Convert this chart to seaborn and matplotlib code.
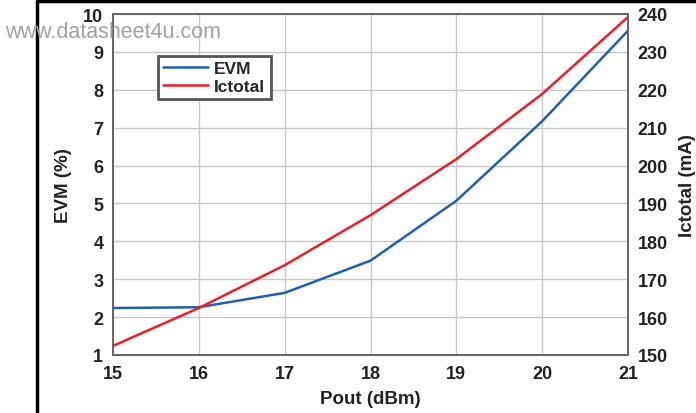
import matplotlib
matplotlib.use("Agg")
import matplotlib.pyplot as plt
import seaborn as sns
import pandas as pd
from matplotlib.lines import Line2D

# values
pout = [15, 16, 17, 18, 19, 20, 21]
evm = [2.24, 2.26, 2.64, 3.49, 5.07, 7.17, 9.56]
ictotal = [152.4, 162.4, 173.7, 186.9, 201.7, 218.9, 239.2]

df = pd.DataFrame({"Pout": pout, "EVM": evm, "Ictotal": ictotal})

sns.set_style("white")
plt.rcParams["font.family"] = ["Liberation Sans", "DejaVu Sans"]
plt.rcParams["font.weight"] = "bold"

fig = plt.figure(figsize=(6.96, 4.14), dpi=100)
ax = fig.add_axes([113 / 696, 1 - 356 / 414, 515 / 696, 341 / 414])
ax2 = ax.twinx()

sns.lineplot(data=df, x="Pout", y="EVM", ax=ax, color="#1f5fb0", lw=1.8, label="EVM", legend=False)
sns.lineplot(data=df, x="Pout", y="Ictotal", ax=ax2, color="#ee1c25", lw=1.8, label="Ictotal", legend=False)

ax.set_xlim(15, 21)
ax.set_ylim(1, 10)
ax2.set_ylim(150, 240)
ax.set_xticks(range(15, 22))
ax.set_yticks(range(1, 11))
ax2.set_yticks(range(150, 241, 10))

ax.grid(True, color="#c8c8c8", lw=1)
for a in (ax, ax2):
    for s in a.spines.values():
        s.set_color("#666666")
        s.set_linewidth(1.3)
    a.tick_params(labelsize=13, length=0, pad=7, colors="#222222")
    for t in a.get_xticklabels() + a.get_yticklabels():
        t.set_fontweight("bold")

ax.set_xlabel("Pout (dBm)", fontsize=13.5, fontweight="bold", color="#222222", labelpad=6)
ax.set_ylabel("EVM (%)", fontsize=13.5, fontweight="bold", color="#222222", labelpad=8)
ax2.set_ylabel("Ictotal (mA)", fontsize=13.5, fontweight="bold", color="#222222", labelpad=8)

handles = [Line2D([], [], color="#1f5fb0", lw=1.8), Line2D([], [], color="#ee1c25", lw=1.8)]
leg = ax.legend(handles, ["EVM", "Ictotal"], loc="upper left", bbox_to_anchor=(0.087, 0.877),
                borderaxespad=0, fancybox=False, framealpha=1, handlelength=2.6,
                prop={"weight": "bold", "size": 12.5}, borderpad=0.3, labelspacing=0.15,
                handletextpad=0.35)
leg.get_frame().set_edgecolor("#555555")
leg.get_frame().set_linewidth(2)
leg.set_zorder(10)

# page frame lines from the datasheet
fig.add_artist(Line2D([37 / 696, 1], [1 - 2 / 414, 1 - 2 / 414], color="black", lw=2.5))
fig.add_artist(Line2D([37 / 696, 37 / 696], [0, 1 - 2 / 414], color="black", lw=2.5))

# watermark
fig.text(5 / 696, 1 - 37.5 / 414, "www.datasheet4u.com", fontsize=15.5, color="#a0a0a0",
         fontweight="normal", va="baseline", ha="left")

fig.savefig("out.png", dpi=100)
